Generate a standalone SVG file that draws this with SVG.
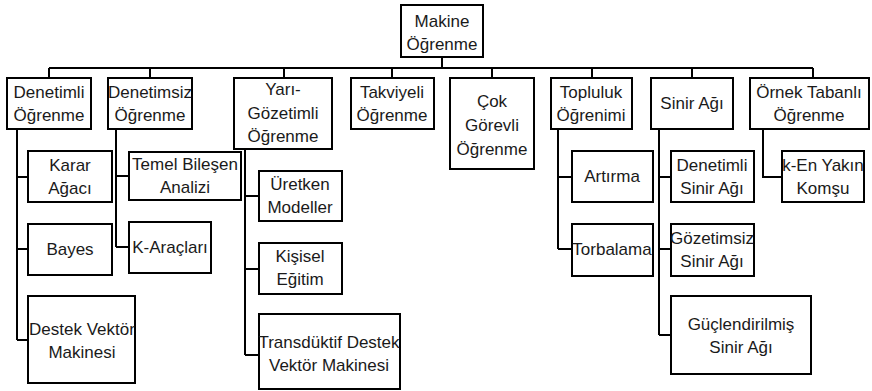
<svg xmlns="http://www.w3.org/2000/svg" width="872" height="391" viewBox="0 0 872 391">
<style>
.b{fill:#fff;stroke:#000;stroke-width:2}
.t{font-family:"Liberation Sans",Arial,sans-serif;font-size:17px;fill:#1a1a1a;text-anchor:middle}
.c{fill:none;stroke:#000;stroke-width:2}
</style>
<rect width="872" height="391" fill="#fff"/>
<g id="connectors">
<path class="c" d="M442 57V68M49 68H813M49 68V78M150 68V78M284 68V78M392 68V78M492 68V78M592 68V78M692 68V78M813 68V78"/>
<path class="c" d="M17 129V340M17 177H28M17 249H28M17 340H28"/>
<path class="c" d="M116 129V247M116 176H129M116 247H129"/>
<path class="c" d="M245 149V355M245 196H259M245 269H259M245 355H259"/>
<path class="c" d="M558 129V249M558 177H572M558 249H572"/>
<path class="c" d="M659 129V335M659 177H671M659 249H671M659 335H671"/>
<path class="c" d="M763 129V177H782"/>
</g>
<g id="n-makine"><rect class="b" x="401" y="5" width="82" height="52"/><text class="t" x="442" y="27">Makine</text><text class="t" x="442" y="50">Öğrenme</text></g>
<g id="n-denetimli"><rect class="b" x="7" y="78" width="84" height="51"/><text class="t" x="49" y="98">Denetimli</text><text class="t" x="49" y="121">Öğrenme</text></g>
<g id="n-denetimsiz"><rect class="b" x="108" y="78" width="84" height="51"/><text class="t" x="150" y="98">Denetimsiz</text><text class="t" x="150" y="121">Öğrenme</text></g>
<g id="n-yari"><rect class="b" x="234" y="78" width="98" height="71"/><text class="t" x="283" y="95">Yarı-</text><text class="t" x="283" y="119">Gözetimli</text><text class="t" x="283" y="142">Öğrenme</text></g>
<g id="n-takviyeli"><rect class="b" x="351" y="78" width="83" height="51"/><text class="t" x="392" y="98">Takviyeli</text><text class="t" x="392" y="121">Öğrenme</text></g>
<g id="n-cok"><rect class="b" x="450" y="78" width="84" height="91"/><text class="t" x="492" y="107">Çok</text><text class="t" x="492" y="131">Görevli</text><text class="t" x="492" y="155">Öğrenme</text></g>
<g id="n-topluluk"><rect class="b" x="551" y="78" width="81" height="51"/><text class="t" x="591" y="98">Topluluk</text><text class="t" x="591" y="121">Öğrenimi</text></g>
<g id="n-sinir"><rect class="b" x="651" y="78" width="82" height="51"/><text class="t" x="692" y="109">Sinir Ağı</text></g>
<g id="n-ornek"><rect class="b" x="750" y="78" width="119" height="51"/><text class="t" x="809" y="98">Örnek Tabanlı</text><text class="t" x="809" y="121">Öğrenme</text></g>
<g id="n-karar"><rect class="b" x="28" y="151" width="84" height="51"/><text class="t" x="70" y="171">Karar</text><text class="t" x="70" y="194">Ağacı</text></g>
<g id="n-bayes"><rect class="b" x="28" y="224" width="84" height="51"/><text class="t" x="70" y="255">Bayes</text></g>
<g id="n-destek"><rect class="b" x="28" y="296" width="107" height="87"/><text class="t" x="82" y="335">Destek Vektör</text><text class="t" x="82" y="358">Makinesi</text></g>
<g id="n-temel"><rect class="b" x="129" y="152" width="112" height="48"/><text class="t" x="185" y="170">Temel Bileşen</text><text class="t" x="185" y="193">Analizi</text></g>
<g id="n-karaclari"><rect class="b" x="129" y="222" width="82" height="51"/><text class="t" x="170" y="253">K-Araçları</text></g>
<g id="n-uretken"><rect class="b" x="259" y="171" width="83" height="50"/><text class="t" x="300" y="190">Üretken</text><text class="t" x="300" y="213">Modeller</text></g>
<g id="n-kisisel"><rect class="b" x="259" y="243" width="83" height="51"/><text class="t" x="300" y="262">Kişisel</text><text class="t" x="300" y="285">Eğitim</text></g>
<g id="n-transduktif"><rect class="b" x="259" y="314" width="141" height="75"/><text class="t" x="329" y="348">Transdüktif Destek</text><text class="t" x="329" y="371">Vektör Makinesi</text></g>
<g id="n-artirma"><rect class="b" x="572" y="151" width="81" height="51"/><text class="t" x="612" y="182">Artırma</text></g>
<g id="n-torbalama"><rect class="b" x="572" y="224" width="81" height="52"/><text class="t" x="612" y="255">Torbalama</text></g>
<g id="n-dsa"><rect class="b" x="671" y="151" width="83" height="51"/><text class="t" x="712" y="171">Denetimli</text><text class="t" x="712" y="194">Sinir Ağı</text></g>
<g id="n-gsa"><rect class="b" x="671" y="224" width="83" height="52"/><text class="t" x="712" y="244">Gözetimsiz</text><text class="t" x="712" y="267">Sinir Ağı</text></g>
<g id="n-gucsa"><rect class="b" x="671" y="296" width="140" height="78"/><text class="t" x="741" y="330">Güçlendirilmiş</text><text class="t" x="741" y="353">Sinir Ağı</text></g>
<g id="n-knn"><rect class="b" x="782" y="151" width="82" height="51"/><text class="t" x="823" y="171">k-En Yakın</text><text class="t" x="823" y="194">Komşu</text></g>
</svg>
